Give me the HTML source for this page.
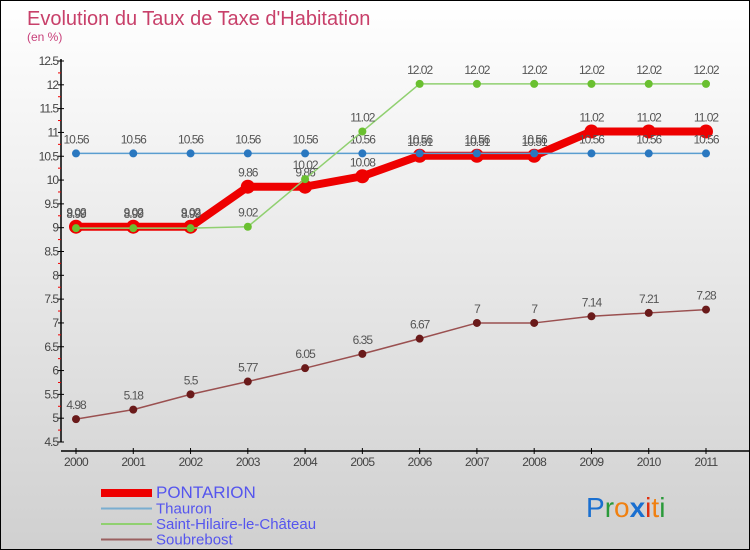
<!DOCTYPE html>
<html><head><meta charset="utf-8"><style>
body{margin:0}
#c{width:750px;height:550px;position:relative;box-sizing:border-box;border:1px solid #000;background:linear-gradient(#fff,#d0d0d0);font-family:"Liberation Sans",sans-serif;overflow:hidden}
</style></head><body>
<div id="c">
<svg id="s" width="748" height="548" style="position:absolute;left:0;top:0">
<text x="26" y="24" font-size="20" fill="#c8406a">Evolution du Taux de Taxe d'Habitation</text>
<text x="26" y="40" font-size="12" fill="#c8407a">(en %)</text>
<g id="g"></g>
<text x="585" y="516" font-size="28" font-weight="normal"><tspan fill="#1a6fd0">P</tspan><tspan fill="#2a9a3a">r</tspan><tspan fill="#f08010">o</tspan><tspan fill="#1a6fd0" font-weight="bold">x</tspan><tspan fill="#e03010">i</tspan><tspan fill="#f08010">t</tspan><tspan fill="#2a9a3a">i</tspan></text>
</svg>
</div>
<script>
const years=["2000","2001","2002","2003","2004","2005","2006","2007","2008","2009","2010","2011"];
const yTicks=["4.5","5","5.5","6","6.5","7","7.5","8","8.5","9","9.5","10","10.5","11","11.5","12","12.5"];
const pontarion=[9.02,9.02,9.02,9.86,9.86,10.08,10.51,10.51,10.51,11.02,11.02,11.02];
const thauron=[10.56,10.56,10.56,10.56,10.56,10.56,10.56,10.56,10.56,10.56,10.56,10.56];
const sthilaire=[8.99,8.99,8.99,9.02,10.02,11.02,12.02,12.02,12.02,12.02,12.02,12.02];
const soubrebost=[4.98,5.18,5.5,5.77,6.05,6.35,6.67,7,7,7.14,7.21,7.28];
const NS="http://www.w3.org/2000/svg",g=document.getElementById('g');
const X=i=>75+i*(630/11), Y=v=>441-(v-4.5)*(381/8);
function mk(t,a,txt){const e=document.createElementNS(NS,t);for(const k in a)e.setAttribute(k,a[k]);if(txt!==undefined)e.textContent=txt;g.appendChild(e);return e;}
let e;
e=mk('line',{x1:60,y1:58,x2:60,y2:441,stroke:'#000','stroke-width':1.5});


e=mk('line',{x1:60,y1:450,x2:748,y2:450,stroke:'#000','stroke-width':1.5});


yTicks.forEach((t,i)=>{const v=parseFloat(t),y=Y(v);
 mk('line',{x1:57,y1:y,x2:63,y2:y,stroke:'#000'});
 if(i<yTicks.length-1)mk('line',{x1:57,y1:Y(v+0.25),x2:60,y2:Y(v+0.25),stroke:'#e00'});
 e=mk('text',{x:57,y:y+4,'font-size':12,fill:'#444','text-anchor':'end','letter-spacing':'-1'},t);
 
 
});
years.forEach((t,i)=>{mk('line',{x1:X(i),y1:447,x2:X(i),y2:453,stroke:'#000'});
 e=mk('text',{x:X(i),y:465,'font-size':12,fill:'#444','text-anchor':'middle','letter-spacing':'-0.7'},t);
 
 
});
function series(d,col,w,r,mcol,name){
 e=mk('polyline',{points:d.map((v,i)=>X(i)+','+Y(v)).join(' '),fill:'none',stroke:col,'stroke-width':w,'stroke-linejoin':'round'});
 
 
 d.forEach((v,i)=>{e=mk('circle',{cx:X(i),cy:Y(v),r:r,fill:mcol});
  
  
  e=mk('text',{x:X(i),y:Y(v)-10,'font-size':12,fill:'#555','text-anchor':'middle','letter-spacing':'-1'},String(v));
  
  
 });
}
series(soubrebost,'#9a5050',1.5,4,'#6a1a1a','soubrebost');
series(pontarion,'#ee0000',8,7,'#ee0000','pontarion');
series(thauron,'#5a9ed0',1.5,4,'#2a78c0','thauron');
series(sthilaire,'#90d070',1.5,4,'#6ac030','saint-hilaire');
const leg=[['PONTARION','#ee0000',8,17],['Thauron','#7aaed0',2,15],['Saint-Hilaire-le-Château','#90d070',2,15],['Soubrebost','#9a6060',2,15]];
leg.forEach((l,i)=>{const y=492+i*15.5;
 mk('line',{x1:100,y1:y,x2:151,y2:y,stroke:l[1],'stroke-width':l[2]});
 e=mk('text',{x:155,y:y+5,'font-size':l[3],fill:'#5555ee'},l[0]);
 
 
});
</script>
</body></html>
